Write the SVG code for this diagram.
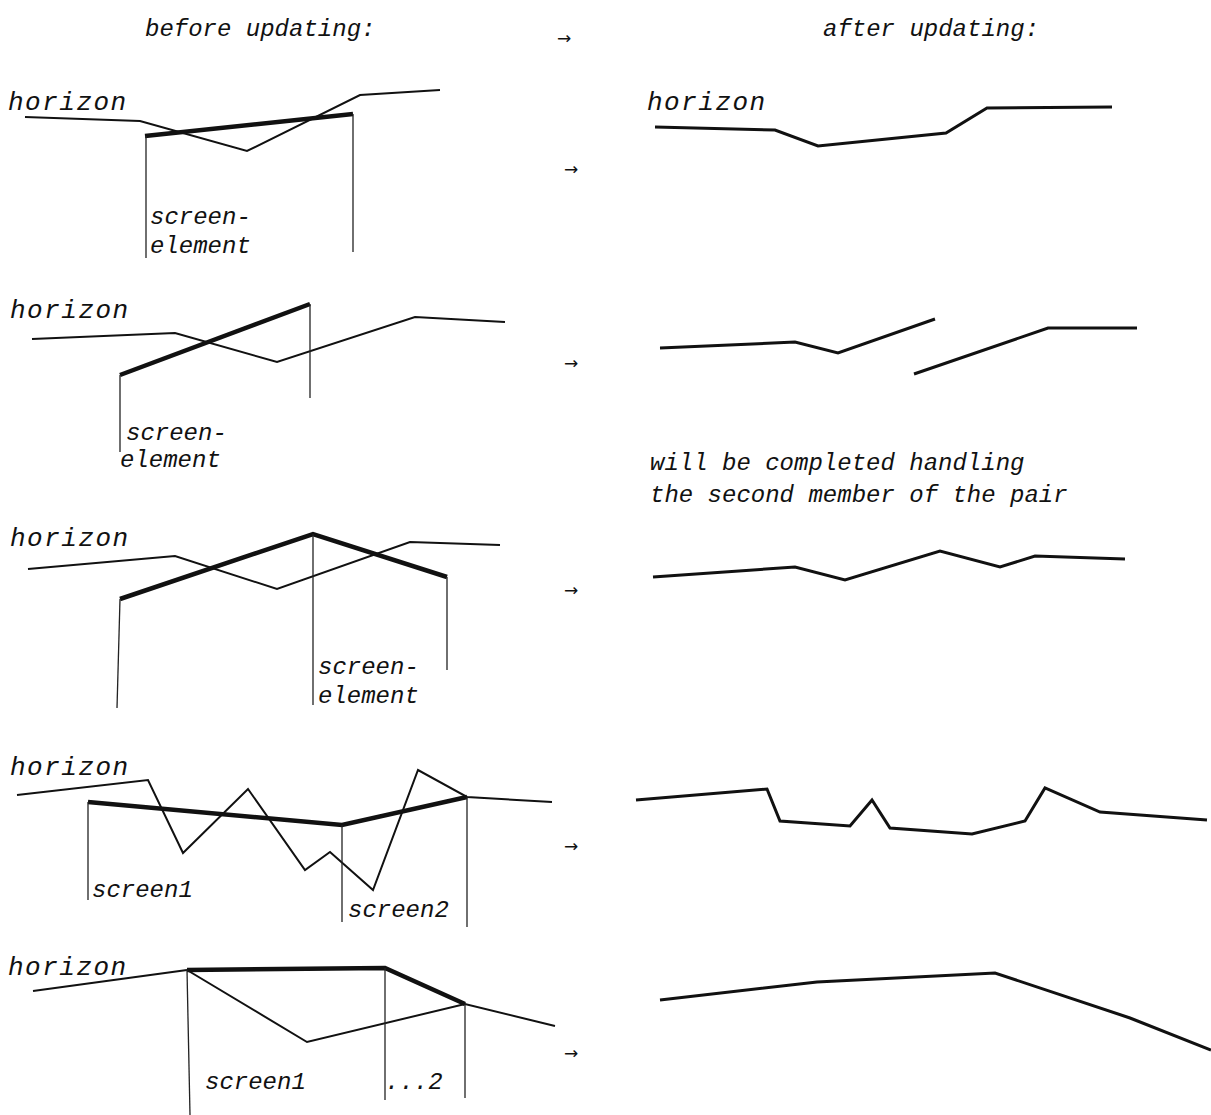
<svg xmlns="http://www.w3.org/2000/svg" width="1211" height="1115" viewBox="0 0 1211 1115">
<style>
text{font-family:"Liberation Mono","DejaVu Sans Mono",monospace;font-style:italic;font-size:24px;fill:#111}
.hz{font-size:26px;letter-spacing:1.5px}
.arr{font-family:"DejaVu Sans",sans-serif;font-style:normal;font-size:17px}
.thin{fill:none;stroke:#111;stroke-width:2;stroke-linejoin:miter}
.thick{fill:none;stroke:#111;stroke-width:4.5;stroke-linejoin:miter}
.vert{fill:none;stroke:#222;stroke-width:1.3}
.res{fill:none;stroke:#111;stroke-width:3}
</style>
<rect width="1211" height="1115" fill="#fff"/>
<g id="titles">
<text x="145" y="36">before updating:</text>
<text x="557" y="44" class="arr">→</text>
<text x="823" y="36">after updating:</text>
</g>
<g id="row1-before">
<text x="8" y="110" class="hz">horizon</text>
<polyline class="thin" points="25,117 140,121 247,151 360,95 440,90"/>
<polyline class="thick" points="145,136 353,114"/>
<polyline class="vert" points="146,136 146,258"/>
<polyline class="vert" points="353,114 353,252"/>
<text x="150" y="224">screen-</text>
<text x="150" y="253">element</text>
</g>
<g id="row1-after">
<text x="647" y="110" class="hz">horizon</text>
<polyline class="res" points="655,127 775,130 818,146 946,133 987,108 1112,107"/>
</g>
<g id="row2-before">
<text x="10" y="318" class="hz">horizon</text>
<polyline class="thin" points="32,339 175,333 277,362 415,317 505,322"/>
<polyline class="thick" points="120,375 310,304"/>
<polyline class="vert" points="120,375 120,452"/>
<polyline class="vert" points="310,304 310,398"/>
<text x="126" y="440">screen-</text>
<text x="120" y="467">element</text>
</g>
<g id="row2-after">
<polyline class="res" points="660,348 795,342 838,353 935,319"/>
<polyline class="res" points="914,374 1048,328 1137,328"/>
<text x="650" y="470">will be completed handling</text>
<text x="650" y="502">the second member of the pair</text>
</g>
<g id="row3-before">
<text x="10" y="546" class="hz">horizon</text>
<polyline class="thin" points="28,569 175,556 277,589 410,542 500,545"/>
<polyline class="thick" points="120,599 313,534 447,577"/>
<polyline class="vert" points="120,599 117,708"/>
<polyline class="vert" points="313,534 313,705"/>
<polyline class="vert" points="447,577 447,670"/>
<text x="318" y="674">screen-</text>
<text x="318" y="703">element</text>
</g>
<g id="row3-after">
<polyline class="res" points="653,577 795,567 845,580 940,551 1000,567 1035,556 1125,559"/>
</g>
<g id="row4-before">
<text x="10" y="775" class="hz">horizon</text>
<polyline class="thin" points="17,795 148,780 183,853 248,789 305,870 330,852 373,890 418,770 467,797 552,802"/>
<polyline class="thick" points="88,802 342,825 467,797"/>
<polyline class="vert" points="88,802 88,900"/>
<polyline class="vert" points="342,825 342,922"/>
<polyline class="vert" points="467,797 467,927"/>
<text x="92" y="897">screen1</text>
<text x="348" y="917">screen2</text>
</g>
<g id="row4-after">
<polyline class="res" points="636,800 767,789 780,821 850,826 872,800 890,828 972,834 1025,821 1045,788 1100,812 1207,820"/>
</g>
<g id="row5-before">
<text x="8" y="975" class="hz">horizon</text>
<polyline class="thin" points="33,991 187,970"/>
<polyline class="thin" points="187,970 307,1042 465,1004 555,1026"/>
<polyline class="thick" points="187,970 385,968 465,1004"/>
<polyline class="vert" points="187,970 190,1115"/>
<polyline class="vert" points="385,968 385,1100"/>
<polyline class="vert" points="465,1004 465,1098"/>
<text x="205" y="1089">screen1</text>
<text x="385" y="1089">...2</text>
</g>
<g id="row5-after">
<polyline class="res" points="660,1000 817,982 995,973 1130,1018 1211,1050"/>
</g>
<g id="arrows">
<text x="564" y="175" class="arr">→</text>
<text x="564" y="369" class="arr">→</text>
<text x="564" y="596" class="arr">→</text>
<text x="564" y="852" class="arr">→</text>
<text x="564" y="1059" class="arr">→</text>
</g>
</svg>
